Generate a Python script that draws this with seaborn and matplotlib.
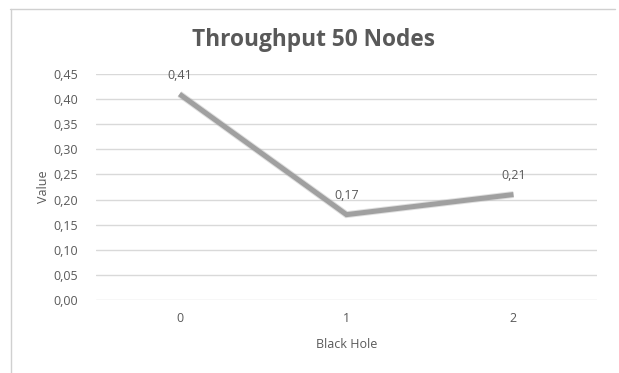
import matplotlib
matplotlib.use("Agg")
import matplotlib.pyplot as plt
from matplotlib.lines import Line2D
from matplotlib.ticker import FuncFormatter
import pandas as pd
import seaborn as sns

# Throughput with 0, 1 and 2 black-hole nodes
black_hole = [0, 1, 2]
throughput = [0.41, 0.17, 0.21]
y_ticks = [0.00, 0.05, 0.10, 0.15, 0.20, 0.25, 0.30, 0.35, 0.40, 0.45]

df = pd.DataFrame({"Black Hole": black_hole, "Value": throughput})

sns.set_theme(style="white")
plt.rcParams["font.family"] = ["Open Sans", "DejaVu Sans"]

TEXT = "#595959"
GRID = "#d9d9d9"

fig = plt.figure(figsize=(6.19, 3.73), dpi=100)
fig.patch.set_facecolor("white")
ax = fig.add_axes([96 / 619, 1 - 300 / 373, (597 - 96) / 619, (300 - 74) / 373])

# soft halo under the series line
sns.lineplot(data=df, x="Black Hole", y="Value", ax=ax, color="#a5a5a5",
             linewidth=5.0, alpha=0.35, solid_capstyle="butt",
             solid_joinstyle="miter", zorder=2)
sns.lineplot(data=df, x="Black Hole", y="Value", ax=ax, color="#a0a0a0",
             linewidth=3.6, solid_capstyle="butt", solid_joinstyle="miter",
             zorder=3)

ax.set_xlim(-0.5, 2.5)
ax.set_ylim(y_ticks[0], y_ticks[-1])
ax.set_yticks(y_ticks)
ax.set_xticks(black_hole)
ax.yaxis.set_major_formatter(FuncFormatter(lambda v, _: f"{v:.2f}".replace(".", ",")))
ax.grid(axis="y", color=GRID, linewidth=1.0)
ax.grid(axis="x", visible=False)
for s in ax.spines.values():
    s.set_visible(False)
ax.tick_params(axis="both", length=0, labelsize=9, labelcolor=TEXT)
ax.tick_params(axis="y", pad=13)
ax.tick_params(axis="x", pad=9)
ax.set_xlabel("Black Hole", fontsize=9, color=TEXT, labelpad=9)
ax.set_ylabel("Value", fontsize=9, color=TEXT, labelpad=2)

for x, y in zip(black_hole, throughput):
    ax.annotate(f"{y:.2f}".replace(".", ","), (x, y), xytext=(0, 9),
                textcoords="offset points", ha="center", va="bottom",
                fontsize=9, color=TEXT)

fig.text(0.506, 1 - 40 / 373, "Throughput 50 Nodes", ha="center", va="center",
         fontsize=16.3, fontweight="bold", color=TEXT)

# outer chart frame
fig.add_artist(Line2D([10 / 619, 615 / 619], [1 - 9 / 373, 1 - 9 / 373],
                      color="#d0d0d0", linewidth=1.0))
fig.add_artist(Line2D([11 / 619, 11 / 619], [1 - 9 / 373, 0],
                      color="#d0d0d0", linewidth=1.0))

fig.savefig("out.png", dpi=100, facecolor="white")
